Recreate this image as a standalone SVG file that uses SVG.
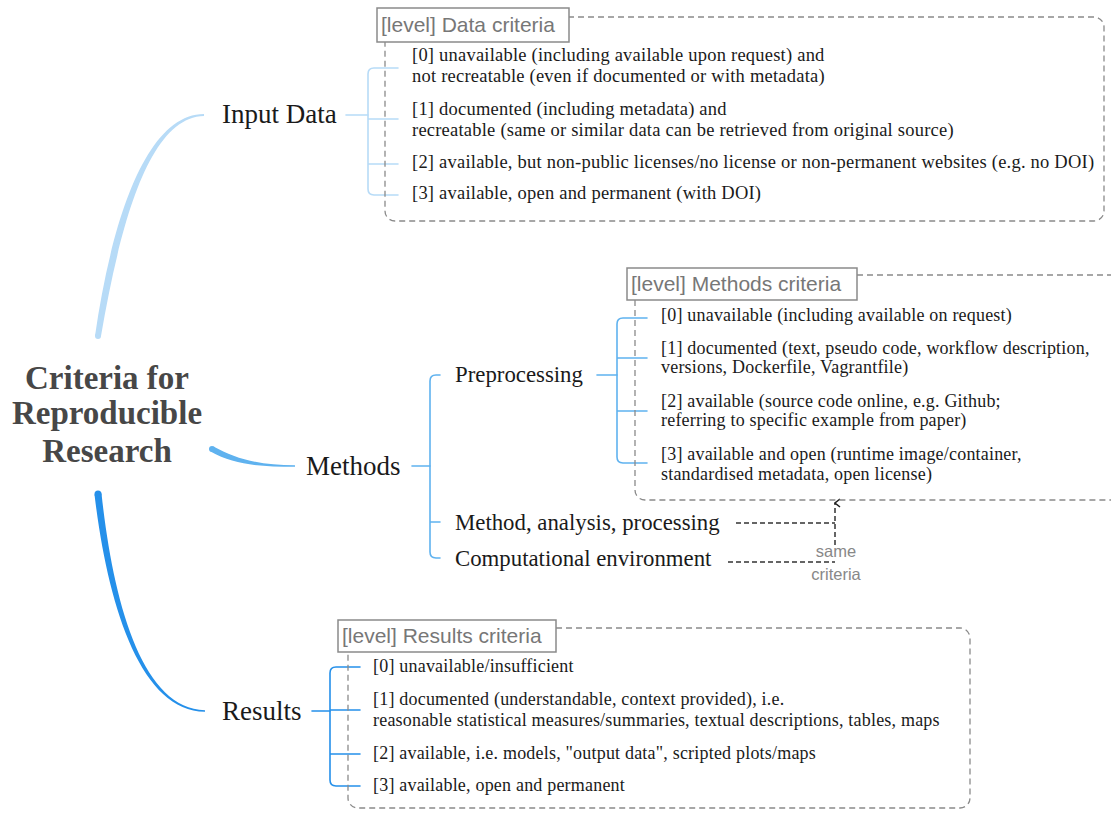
<svg xmlns="http://www.w3.org/2000/svg" width="1111" height="814" viewBox="0 0 1111 814">
<defs>
<style>
.title{font-family:"Liberation Serif","Times New Roman",serif;font-weight:bold;font-size:33px;fill:#474747;text-anchor:middle}
.node{font-family:"Liberation Serif","Times New Roman",serif;font-size:27px;fill:#1a1a1a}
.sub{font-family:"Liberation Serif","Times New Roman",serif;font-size:22.8px;fill:#1a1a1a}
.item{font-family:"Liberation Serif","Times New Roman",serif;font-size:18px;letter-spacing:0.2px;fill:#1a1a1a}
.itemd{font-family:"Liberation Serif","Times New Roman",serif;font-size:18.5px;letter-spacing:0.22px;fill:#1a1a1a}
.label{font-family:"Liberation Sans",Arial,sans-serif;font-size:21px;fill:#777}
.note{font-family:"Liberation Sans",Arial,sans-serif;font-size:16.5px;fill:#888;text-anchor:middle}
.lbox{fill:#fff;stroke:#8a8a8a;stroke-width:1.5}
.dbox{fill:none;stroke:#8a8a8a;stroke-width:1.3;stroke-dasharray:6 4}
.br{fill:none;stroke-width:1.6;stroke-linecap:round}
.c1{stroke:#b7dbf7}
.c2{stroke:#5fb2ef}
.c3{stroke:#2590ea}
.arr{fill:none;stroke:#333;stroke-width:1.5;stroke-dasharray:5 3}
</style>
<marker id="ah" viewBox="0 0 10 10" refX="5" refY="1" markerWidth="10" markerHeight="10" markerUnits="userSpaceOnUse" orient="auto-start-reverse">
<path d="M1,6 L5,1 L9,6" fill="none" stroke="#222" stroke-width="1.6"/>
</marker>
</defs>

<g id="root">
<text class="title" x="107" y="389">Criteria for</text>
<text class="title" x="107" y="424">Reproducible</text>
<text class="title" x="107" y="462">Research</text>
</g>

<g id="connectors">
<path d="M95,336 C112,218 147,114 204,114 L204,116 C150,117 121,220 101,336 Z" fill="#b7dbf7"/>
<circle cx="98" cy="336" r="3" fill="#b7dbf7"/>
<path d="M213.5,446.4 C236,459 261,465.3 295,465.3 L295,466.7 C259,466.7 234,465 210.5,451.6 Z" fill="#5fb2ef"/>
<circle cx="212" cy="449" r="3" fill="#5fb2ef"/>
<path d="M94.5,494.4 C107,600.3 139,711.5 205,711.75 L205,710.25 C141,708.5 113,599.7 101.5,493.6 Z" fill="#2590ea"/>
<circle cx="98" cy="494" r="3.5" fill="#2590ea"/>

<path class="br c1" d="M346,115 H368"/>
<path class="br c1" d="M398,68 H374 Q368,68 368,74 V189 Q368,195 374,195 H398 M368,119 H398 M368,164 H398"/>

<path class="br c2" d="M412,466 H430"/>
<path class="br c2" d="M440,375 H436 Q430,375 430,381 V552 Q430,558 436,558 H440 M430,522 H440"/>
<path class="br c2" d="M597,375 H617"/>
<path class="br c2" d="M647,318 H623 Q617,318 617,324 V457 Q617,463 623,463 H647 M617,358 H647 M617,411 H647"/>

<path class="br c3" d="M312,711 H330"/>
<path class="br c3" d="M360,667 H336 Q330,667 330,673 V780 Q330,786 336,786 H360 M330,710 H360 M330,754 H360"/>

<path class="arr" d="M736,523 H835"/>
<path class="arr" d="M728,562 H835"/>
<path class="arr" d="M835,545 V503" marker-end="url(#ah)"/>
</g>

<g id="input-data">
<text class="node" x="222" y="123">Input Data</text>
</g>

<g id="data-criteria">
<path class="dbox" d="M568,17 H1094 A10,10 0 0 1 1104,27 V211 A10,10 0 0 1 1094,221 H395 A10,10 0 0 1 385,211 V42"/>
<rect class="lbox" x="377" y="8" width="192" height="34"/>
<text class="label" x="381" y="32">[level] Data criteria</text>
<text class="itemd" x="412" y="61">[0] unavailable (including available upon request) and</text>
<text class="itemd" x="412" y="82">not recreatable (even if documented or with metadata)</text>
<text class="itemd" x="412" y="115">[1] documented (including metadata) and</text>
<text class="itemd" x="412" y="136">recreatable (same or similar data can be retrieved from original source)</text>
<text class="itemd" x="412" y="168">[2] available, but non-public licenses/no license or non-permanent websites (e.g. no DOI)</text>
<text class="itemd" x="412" y="199">[3] available, open and permanent (with DOI)</text>
</g>

<g id="methods">
<text class="node" x="306" y="475">Methods</text>
</g>

<g id="preprocessing">
<text class="sub" x="455" y="382">Preprocessing</text>
</g>

<g id="method-analysis">
<text class="sub" x="455" y="530">Method, analysis, processing</text>
</g>

<g id="computational-env">
<text class="sub" x="455" y="566">Computational environment</text>
</g>

<g id="methods-criteria">
<path class="dbox" d="M857,275 H1111 M635,300 V490 A10,10 0 0 0 645,500 H1111"/>
<rect class="lbox" x="627" y="268" width="230" height="32"/>
<text class="label" x="631" y="291">[level] Methods criteria</text>
<text class="item" x="661" y="321">[0] unavailable (including available on request)</text>
<text class="item" x="661" y="354">[1] documented (text, pseudo code, workflow description,</text>
<text class="item" x="661" y="373">versions, Dockerfile, Vagrantfile)</text>
<text class="item" x="661" y="407">[2] available (source code online, e.g. Github;</text>
<text class="item" x="661" y="426">referring to specific example from paper)</text>
<text class="item" x="661" y="460">[3] available and open (runtime image/container,</text>
<text class="item" x="661" y="480">standardised metadata, open license)</text>
</g>

<g id="same-criteria">
<text class="note" x="836" y="557">same</text>
<text class="note" x="836" y="580">criteria</text>
</g>

<g id="results">
<text class="node" x="222" y="720">Results</text>
</g>

<g id="results-criteria">
<path class="dbox" d="M556,628 H960 A10,10 0 0 1 970,638 V798 A10,10 0 0 1 960,808 H358 A10,10 0 0 1 348,798 V652"/>
<rect class="lbox" x="338" y="620" width="218" height="32"/>
<text class="label" x="342" y="643">[level] Results criteria</text>
<text class="item" x="373" y="672">[0] unavailable/insufficient</text>
<text class="item" x="373" y="705">[1] documented (understandable, context provided), i.e.</text>
<text class="item" x="373" y="726">reasonable statistical measures/summaries, textual descriptions, tables, maps</text>
<text class="item" x="373" y="759">[2] available, i.e. models, "output data", scripted plots/maps</text>
<text class="item" x="373" y="791">[3] available, open and permanent</text>
</g>
</svg>
